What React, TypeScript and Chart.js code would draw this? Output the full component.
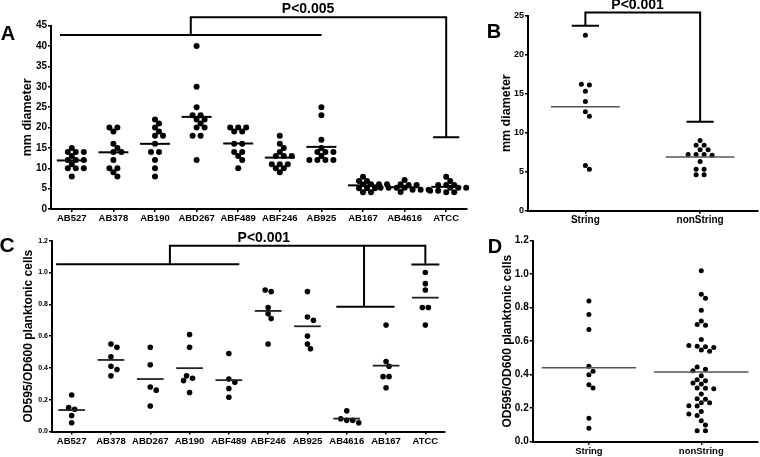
import React, { useEffect, useRef } from 'react';
import { Chart, registerables } from 'chart.js';

Chart.register(...registerables);

const FONT = '"Liberation Sans", Arial, Helvetica, sans-serif';

// ---------- Panel A: zone diameter per strain ----------
const zoneCategories = ['AB527', 'AB378', 'AB190', 'ABD267', 'ABF489', 'ABF246', 'AB925', 'AB167', 'AB4616', 'ATCC'];
const zoneValues: number[][] = [
  [15, 14, 14, 14, 13, 12, 12, 12, 11, 10, 10, 10, 8],
  [20, 20, 19, 16, 15, 14, 14, 12, 10, 10, 9, 8],
  [22, 21, 20, 19, 18, 18, 16, 14, 14, 12, 10, 8],
  [40, 30, 25, 23, 23, 22, 22, 21, 20, 20, 18, 18, 12],
  [20, 20, 20, 19, 19, 16, 16, 14, 14, 13, 12, 10],
  [18, 16, 15, 14, 13, 13, 13, 11, 11, 11, 10, 10, 9],
  [25, 23, 17, 15, 14, 14, 14, 13, 12, 12, 12, 12],
  [7.9, 6.9, 6.9, 6.1, 6.1, 6.1, 6.1, 5.1, 5.1, 5.1, 4.1, 4.1],
  [7.1, 6.1, 5.9, 5.9, 5.2, 5.2, 5.2, 5.2, 4.7, 4.7, 4.7, 4.2],
  [7.9, 6.9, 5.9, 5.9, 5.9, 5.2, 5.2, 5.2, 4.5, 4.5, 4.1, 4.1],
];
const zoneTicks = [0, 5, 10, 15, 20, 25, 30, 35, 40, 45];

// ---------- Panel B: zone diameter String vs nonString ----------
const groupCategories = ['String', 'nonString'];
const groupZoneValues: number[][] = [
  [22.5, 16.2, 16.1, 15.3, 14, 12.7, 12.1, 5.8, 5.3],
  [9, 8.4, 8.4, 7.8, 7.8, 7.2, 7.2, 7.2, 7.1, 6.3, 5.3, 5.3, 4.6, 4.6],
];
const groupZoneTicks = [0, 5, 10, 15, 20, 25];

// ---------- Panel C: OD ratio per strain ----------
const odCategories = ['AB527', 'AB378', 'ABD267', 'AB190', 'ABF489', 'ABF246', 'AB925', 'AB4616', 'AB167', 'ATCC'];
const odValues: number[][] = [
  [0.23, 0.14, 0.15, 0.1, 0.055],
  [0.55, 0.53, 0.47, 0.41, 0.39, 0.35],
  [0.53, 0.42, 0.28, 0.26, 0.16],
  [0.61, 0.53, 0.35, 0.335, 0.32, 0.245],
  [0.49, 0.33, 0.31, 0.27, 0.215],
  [0.89, 0.88, 0.78, 0.74, 0.71, 0.55],
  [0.88, 0.72, 0.7, 0.6, 0.55, 0.52],
  [0.13, 0.08, 0.07, 0.07, 0.055],
  [0.67, 0.44, 0.41, 0.345, 0.345, 0.275],
  [1.0, 0.93, 0.89, 0.78, 0.78, 0.67],
];
const odTicks = [0, 0.2, 0.4, 0.6, 0.8, 1.0, 1.2];

// ---------- Panel D: OD ratio String vs nonString ----------
const groupOdValues: number[][] = [
  [0.84, 0.76, 0.67, 0.45, 0.42, 0.4, 0.34, 0.32, 0.14, 0.08],
  [
    1.02, 0.88, 0.856, 0.785, 0.72, 0.7, 0.695, 0.61, 0.575, 0.57, 0.567, 0.563, 0.547, 0.54,
    0.446, 0.432, 0.424, 0.394, 0.37, 0.364, 0.35, 0.344, 0.32, 0.319, 0.316, 0.285, 0.257,
    0.253, 0.233, 0.233, 0.215, 0.213, 0.181, 0.165, 0.157, 0.125, 0.1, 0.066, 0.066,
  ],
];

// ---------- plugins ----------
// Column scatter layout: points of near-equal value form centred rows,
// and rows are nudged sideways when they collide with rows above.
const swarmPlugin = {
  id: 'swarm',
  afterDatasetsUpdate(chart: any, _args: any, opts: any) {
    const d = opts.spacing || 7;
    const c = opts.collide || 5;
    const t = opts.rowTol || 2.5;
    chart.data.datasets.forEach((_ds: any, i: number) => {
      const meta = chart.getDatasetMeta(i);
      const groups = new Map<number, any[]>();
      meta.data.forEach((el: any) => {
        const k = Math.round(el.x);
        if (!groups.has(k)) groups.set(k, []);
        groups.get(k)!.push(el);
      });
      groups.forEach((els) => {
        const sorted = [...els].sort((a, b) => a.y - b.y);
        const rows: any[][] = [];
        sorted.forEach((el) => {
          const last = rows[rows.length - 1];
          if (last && el.y - last[0].y <= t) last.push(el);
          else rows.push([el]);
        });
        const placed: { x: number; y: number }[] = [];
        rows.forEach((row) => {
          const cx = row[0].x;
          const n = row.length;
          const base = row.map((_: any, k: number) => (k - (n - 1) / 2) * d);
          const cands = [0, d / 2, -d / 2, d, -d, 1.5 * d, -1.5 * d, 2 * d, -2 * d];
          let bestS = 0;
          let bestP = Infinity;
          cands.forEach((s) => {
            let pen = Math.abs(s) * 0.01;
            row.forEach((el: any, k: number) => {
              const x = cx + base[k] + s;
              placed.forEach((p) => {
                const dist = Math.hypot(p.x - x, p.y - el.y);
                if (dist < c) pen += (c - dist) * 10;
              });
            });
            if (pen < bestP - 1e-9) {
              bestP = pen;
              bestS = s;
            }
          });
          row.forEach((el: any, k: number) => {
            el.x = cx + base[k] + bestS;
          });
          row.forEach((el: any) => placed.push({ x: el.x, y: el.y }));
        });
      });
    });
  },
};

const meanPlugin = {
  id: 'meanLines',
  afterDatasetsDraw(chart: any, _args: any, o: any) {
    const { ctx } = chart;
    const xs = chart.scales.x;
    const ys = chart.scales.y;
    const cats = chart.data.labels as string[];
    const w = xs.width / cats.length;
    const pts = chart.data.datasets[0].data as { x: string; y: number }[];
    ctx.save();
    ctx.strokeStyle = o.color;
    ctx.lineWidth = o.width;
    cats.forEach((cat, i) => {
      const vs = pts.filter((p) => p.x === cat).map((p) => p.y);
      const m = vs.reduce((a, b) => a + b, 0) / vs.length;
      const cx = xs.getPixelForValue(i);
      const y = ys.getPixelForValue(m);
      ctx.beginPath();
      ctx.moveTo(cx - o.half * w, y);
      ctx.lineTo(cx + o.half * w, y);
      ctx.stroke();
    });
    ctx.restore();
  },
};

const annotPlugin = {
  id: 'annot',
  afterDraw(chart: any, _args: any, o: any) {
    const { ctx } = chart;
    const xs = chart.scales.x;
    const ys = chart.scales.y;
    ctx.save();
    ctx.fillStyle = '#000';
    ctx.textAlign = 'center';
    ctx.textBaseline = 'middle';
    ctx.font = `bold ${o.letterSize}px ${FONT}`;
    ctx.fillText(o.letter, o.letterX, o.letterY);
    const b = o.bracket;
    if (b) {
      ctx.strokeStyle = '#000';
      ctx.lineWidth = b.lineWidth;
      ctx.lineCap = 'square';
      const topY = ys.getPixelForValue(b.top);
      const stems = b.legs.map((l: any) => xs.getPixelForValue(l.stem));
      ctx.beginPath();
      b.legs.forEach((l: any) => {
        const y = ys.getPixelForValue(l.at);
        const x1 = xs.getPixelForValue(l.from);
        const x2 = xs.getPixelForValue(l.to);
        const sx = xs.getPixelForValue(l.stem);
        ctx.moveTo(x1, y);
        ctx.lineTo(x2, y);
        ctx.moveTo(sx, y);
        ctx.lineTo(sx, topY);
      });
      ctx.moveTo(Math.min(...stems), topY);
      ctx.lineTo(Math.max(...stems), topY);
      ctx.stroke();
      ctx.font = `bold 14px ${FONT}`;
      ctx.fillText(b.label, xs.getPixelForValue(b.labelX), ys.getPixelForValue(b.labelY));
    }
    ctx.restore();
  },
};

type PanelSpec = {
  left: number; top: number; width: number; height: number;
  categories: string[]; values: number[][]; yTicks: number[]; decimals: number;
  yTitle: string; titleSize: number; titleOffset: number;
  yTickSize: number; xTickSize: number;
  pad: { left: number; right: number; top: number; bottom: number };
  yWidth: number; xHeight: number;
  radius: number; swarm: { spacing: number; collide: number; rowTol: number };
  mean: { half: number; color: string; width: number };
  letter: string; letterX: number; letterY: number; letterSize: number;
  bracket: any;
};

const panels: PanelSpec[] = [
  {
    left: 0, top: 0, width: 470, height: 228,
    categories: zoneCategories, values: zoneValues, yTicks: zoneTicks, decimals: 0,
    yTitle: 'mm diameter', titleSize: 12.5, titleOffset: 20.5,
    yTickSize: 10, xTickSize: 9.5,
    pad: { left: 0, right: 2, top: 25.7, bottom: 0 }, yWidth: 51, xHeight: 19,
    radius: 3, swarm: { spacing: 8, collide: 5.6, rowTol: 2 },
    mean: { half: 0.36, color: '#000', width: 2 },
    letter: 'A', letterX: 8, letterY: 34, letterSize: 20,
    bracket: {
      lineWidth: 2, top: 47.1,
      legs: [
        { from: -0.26, to: 5.98, stem: 2.86, at: 42.7 },
        { from: 8.71, to: 9.29, stem: 9, at: 17.6 },
      ],
      label: 'P<0.005', labelX: 5.68, labelY: 49.1,
    },
  },
  {
    left: 470, top: 0, width: 290, height: 228,
    categories: groupCategories, values: groupZoneValues, yTicks: groupZoneTicks, decimals: 0,
    yTitle: 'mm diameter', titleSize: 12.5, titleOffset: 29.5,
    yTickSize: 9, xTickSize: 10,
    pad: { left: 0, right: 2, top: 15.7, bottom: 0 }, yWidth: 58, xHeight: 17.3,
    radius: 2.5, swarm: { spacing: 8, collide: 5.2, rowTol: 2.5 },
    mean: { half: 0.3, color: '#555', width: 1.5 },
    letter: 'B', letterX: 24, letterY: 32.5, letterSize: 20,
    bracket: {
      lineWidth: 2, top: 25.4,
      legs: [
        { from: -0.11, to: 0.11, stem: 0, at: 23.7 },
        { from: 0.89, to: 1.11, stem: 1, at: 11.4 },
      ],
      label: 'P<0.001', labelX: 0.455, labelY: 26.3,
    },
  },
  {
    left: 0, top: 228, width: 450, height: 229,
    categories: odCategories, values: odValues, yTicks: odTicks, decimals: 1,
    yTitle: 'OD595/OD600 planktonic cells', titleSize: 12, titleOffset: 21.8,
    yTickSize: 7, xTickSize: 9.5,
    pad: { left: 0, right: 5, top: 12.7, bottom: 0 }, yWidth: 52, xHeight: 25.5,
    radius: 2.8, swarm: { spacing: 6, collide: 5.6, rowTol: 2.5 },
    mean: { half: 0.34, color: '#222', width: 1.8 },
    letter: 'C', letterX: 7, letterY: 18, letterSize: 21,
    bracket: {
      lineWidth: 2, top: 1.169,
      legs: [
        { from: -0.37, to: 4.24, stem: 2.5, at: 1.052 },
        { from: 6.76, to: 8.19, stem: 7.44, at: 0.785 },
        { from: 8.67, to: 9.33, stem: 9, at: 1.05 },
      ],
      label: 'P<0.001', labelX: 4.89, labelY: 1.217,
    },
  },
  {
    left: 450, top: 228, width: 310, height: 229,
    categories: groupCategories, values: groupOdValues, yTicks: odTicks, decimals: 1,
    yTitle: 'OD595/OD600 planktonic cells', titleSize: 12, titleOffset: 50.3,
    yTickSize: 10, xTickSize: 9.5,
    pad: { left: 0, right: 2, top: 12.7, bottom: 0 }, yWidth: 82.7, xHeight: 15.3,
    radius: 2.5, swarm: { spacing: 8.3, collide: 5.2, rowTol: 2.5 },
    mean: { half: 0.42, color: '#555', width: 1.5 },
    letter: 'D', letterX: 45, letterY: 19.5, letterSize: 20,
    bracket: null,
  },
];

function PanelChart({ p }: { p: PanelSpec }) {
  const ref = useRef<HTMLCanvasElement>(null);
  useEffect(() => {
    const data = p.categories.flatMap((cat, i) => p.values[i].map((v) => ({ x: cat, y: v })));
    const chart = new Chart(ref.current as HTMLCanvasElement, {
      type: 'scatter',
      data: {
        labels: p.categories,
        datasets: [
          {
            data: data as any,
            pointRadius: p.radius,
            pointHoverRadius: p.radius,
            backgroundColor: '#000',
            borderColor: '#000',
            borderWidth: 0,
          },
        ],
      },
      options: {
        responsive: false,
        animation: false,
        events: [],
        layout: { padding: p.pad },
        plugins: {
          legend: { display: false },
          tooltip: { enabled: false },
          swarm: p.swarm,
          meanLines: p.mean,
          annot: { letter: p.letter, letterX: p.letterX, letterY: p.letterY, letterSize: p.letterSize, bracket: p.bracket },
        } as any,
        scales: {
          x: {
            type: 'category',
            labels: p.categories,
            offset: true,
            grid: { display: true, offset: false, drawOnChartArea: false, drawTicks: true, tickLength: 3, color: '#000', lineWidth: 1.5 },
            border: { display: true, color: '#000', width: 2 },
            ticks: { color: '#000', font: { family: FONT, size: p.xTickSize, weight: 'bold' }, padding: 1, autoSkip: false, maxRotation: 0, minRotation: 0 },
            afterFit: (s: any) => { s.height = p.xHeight; },
          } as any,
          y: {
            type: 'linear',
            min: p.yTicks[0],
            max: p.yTicks[p.yTicks.length - 1],
            afterBuildTicks: (s: any) => { s.ticks = p.yTicks.map((v) => ({ value: v })); },
            grid: { display: true, drawOnChartArea: false, drawTicks: true, tickLength: 3, color: '#000', lineWidth: 1.5 },
            border: { display: true, color: '#000', width: 2 },
            ticks: {
              color: '#000',
              font: { family: FONT, size: p.yTickSize, weight: 'bold' },
              padding: 1,
              callback: (v: any) => Number(v).toFixed(p.decimals),
            },
            title: {
              display: true,
              text: p.yTitle,
              color: '#000',
              font: { family: FONT, size: p.titleSize, weight: 'bold' },
              padding: { top: p.titleOffset, bottom: 0 },
            },
            afterFit: (s: any) => { s.width = p.yWidth; },
          } as any,
        },
      },
      plugins: [swarmPlugin, meanPlugin, annotPlugin],
    });
    return () => chart.destroy();
  }, [p]);
  return (
    <canvas
      ref={ref}
      width={p.width}
      height={p.height}
      style={{ position: 'absolute', left: p.left, top: p.top, width: p.width, height: p.height }}
    />
  );
}

export default function App() {
  return (
    <div style={{ position: 'absolute', left: 0, top: 0, width: 760, height: 457, background: '#fff', overflow: 'hidden' }}>
      {panels.map((p, i) => (
        <PanelChart key={i} p={p} />
      ))}
    </div>
  );
}
